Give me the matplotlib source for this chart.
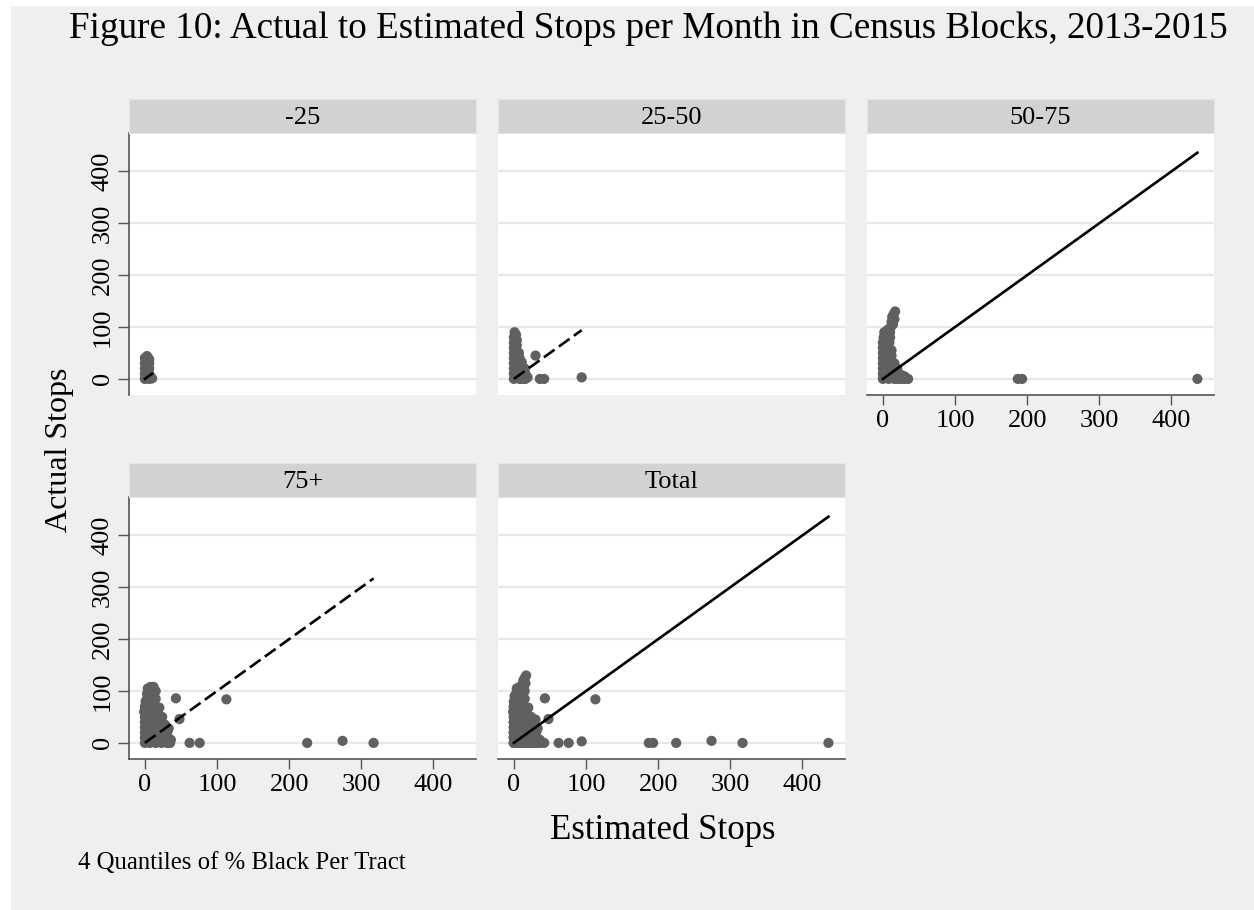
import numpy as np
import matplotlib.pyplot as plt
from matplotlib.patches import Rectangle

plt.rcParams['font.family'] = ['Liberation Serif', 'DejaVu Serif']

# (estimated, actual) stops per month
pts_lt25 = [(0, 0), (0, 10), (0, 20), (0, 30), (0, 40), (3, 5), (3, 15), (3, 25), (3, 35), (3, 44),
            (6, 0), (6, 10), (6, 20), (6, 30), (6, 38), (8, 4), (10, 1)]

pts_25_50 = [(0, 0), (0, 10), (0, 20), (0, 30), (0, 40), (0, 50), (0, 60), (0, 70), (0, 80), (1, 90),
             (4, 5), (4, 15), (4, 25), (4, 35), (4, 45), (4, 55), (4, 65), (4, 75), (3, 85),
             (8, 0), (8, 10), (8, 20), (8, 30), (8, 40), (7, 50),
             (12, 0), (12, 10), (12, 20), (11, 32),
             (16, 0), (16, 10), (15, 20), (19, 3),
             (30, 45), (36, 0), (42, 0), (94, 3)]

pts_50_75 = [(0, 0), (0, 10), (0, 20), (0, 30), (0, 40), (0, 50), (0, 60), (0, 70), (1, 80), (2, 90),
             (4, 5), (4, 15), (4, 25), (4, 35), (4, 45), (4, 55), (4, 65), (5, 75), (6, 85), (7, 95),
             (8, 0), (8, 10), (8, 20), (8, 30), (8, 40), (8, 50), (8, 60), (9, 70), (10, 80), (10, 90),
             (11, 100), (12, 110), (13, 120),
             (12, 5), (12, 15), (12, 25), (12, 35), (12, 45), (12, 55), (14, 105), (16, 115), (15, 125), (17, 130),
             (16, 0), (16, 10), (16, 20), (16, 30),
             (20, 0), (20, 10), (20, 20), (25, 0), (25, 8), (30, 0), (30, 5), (35, 0),
             (187, 0), (193, 0), (436, 0)]

pts_75 = [(0, 0), (0, 10), (0, 20), (0, 30), (0, 40), (0, 50), (-1, 60), (0, 70), (1, 80),
          (3, 5), (3, 15), (3, 25), (3, 35), (3, 45), (3, 55), (3, 65), (3, 75), (3, 85), (3, 95), (4, 105),
          (7, 0), (7, 10), (7, 20), (7, 30), (7, 40), (7, 50), (7, 60), (7, 70), (7, 80), (7, 90), (7, 100), (8, 108),
          (11, 5), (11, 15), (11, 25), (11, 35), (11, 45), (11, 55), (11, 65), (11, 75), (11, 85), (11, 95), (12, 108),
          (15, 0), (15, 10), (15, 20), (15, 30), (15, 40), (15, 50), (15, 60), (15, 70), (15, 85), (15, 100),
          (19, 5), (19, 15), (19, 25), (19, 35), (19, 45), (19, 55), (20, 68),
          (23, 0), (23, 10), (23, 20), (23, 30), (23, 40), (24, 50),
          (27, 5), (27, 15), (27, 25), (28, 35),
          (31, 0), (31, 10), (31, 20), (33, 28), (35, 0), (36, 6),
          (43, 86), (48, 46), (113, 84), (62, 0), (76, 0), (225, 0), (274, 4), (317, 0)]

groups = ['-25', '25-50', '50-75', '75+', 'Total']
group_pts = [pts_lt25, pts_25_50, pts_50_75, pts_75, pts_lt25 + pts_25_50 + pts_50_75 + pts_75]
line_styles = ['-', (0, (5, 2)), '-', (0, (5, 2)), '-']
yticks = [0, 100, 200, 300, 400]
xticks = [0, 100, 200, 300, 400]

W, H = 1254, 910
fig = plt.figure(figsize=(W / 100, H / 100), dpi=100, facecolor='white')
fig.patches.append(Rectangle((11 / W, 0), 1 - 11 / W, 1 - 6 / H, transform=fig.transFigure,
                             facecolor='#efefef', edgecolor='none', zorder=-10))

col_left = [129, 498, 867]
row_top = [133, 497]
pw, ph, sh = 347, 262, 34

for i, (name, pts) in enumerate(zip(groups, group_pts)):
    r, c = divmod(i, 3)
    left, top = col_left[c], row_top[r]
    ax = fig.add_axes([left / W, 1 - (top + ph) / H, pw / W, ph / H])
    ax.set_facecolor('white')

    # strip header
    sx = fig.add_axes([left / W, 1 - top / H, pw / W, sh / H])
    sx.set_facecolor('#d2d2d2')
    for s in sx.spines.values():
        s.set_color('#dce6ec')
    sx.set_xticks([])
    sx.set_yticks([])
    sx.text(0.5, 0.45, name, ha='center', va='center', fontsize=19, transform=sx.transAxes)

    arr = np.array(pts, dtype=float)
    ax.scatter(arr[:, 0], arr[:, 1], s=54, color='#606060', edgecolors='none', zorder=3)
    xmax = arr[:, 0].max()
    ax.plot([0, xmax], [0, xmax], color='black', lw=1.9, ls=line_styles[i], zorder=4)

    ax.set_xlim(-22, 459)
    ax.set_ylim(-31, 474)
    for y in yticks:
        ax.axhline(y, color='#e8e8e8', lw=1.6, zorder=1)

    for s in ['top', 'right']:
        ax.spines[s].set_visible(False)
    ax.spines['left'].set_visible(c == 0)
    has_x = name in ('50-75', '75+', 'Total')
    ax.spines['bottom'].set_visible(has_x)
    for s in ['left', 'bottom']:
        ax.spines[s].set_color('#555555')
        ax.spines[s].set_linewidth(1.2)

    if c == 0:
        ax.set_yticks(yticks)
        ax.set_yticklabels([str(t) for t in yticks], rotation=90, va='center', fontsize=19)
        ax.tick_params(axis='y', length=8, width=1, color='#555555', pad=3)
    else:
        ax.set_yticks([])
    if has_x:
        ax.set_xticks(xticks)
        ax.set_xticklabels([str(t) for t in xticks], fontsize=19)
        ax.tick_params(axis='x', length=7, width=1, color='#555555', pad=4)
    else:
        ax.set_xticks([])

fig.text(648 / W, 1 - 28 / H, 'Figure 10: Actual to Estimated Stops per Month in Census Blocks, 2013-2015',
         ha='center', va='center', fontsize=26.7)
fig.text(60 / W, 1 - 450 / H, 'Actual Stops', rotation=90, ha='center', va='center', fontsize=23)
fig.text(663 / W, 1 - 830 / H, 'Estimated Stops', ha='center', va='center', fontsize=25)
fig.text(78 / W, 1 - 863 / H, '4 Quantiles of % Black Per Tract', ha='left', va='center', fontsize=17.8)

fig.savefig('out.png', dpi=100, facecolor=fig.get_facecolor())
